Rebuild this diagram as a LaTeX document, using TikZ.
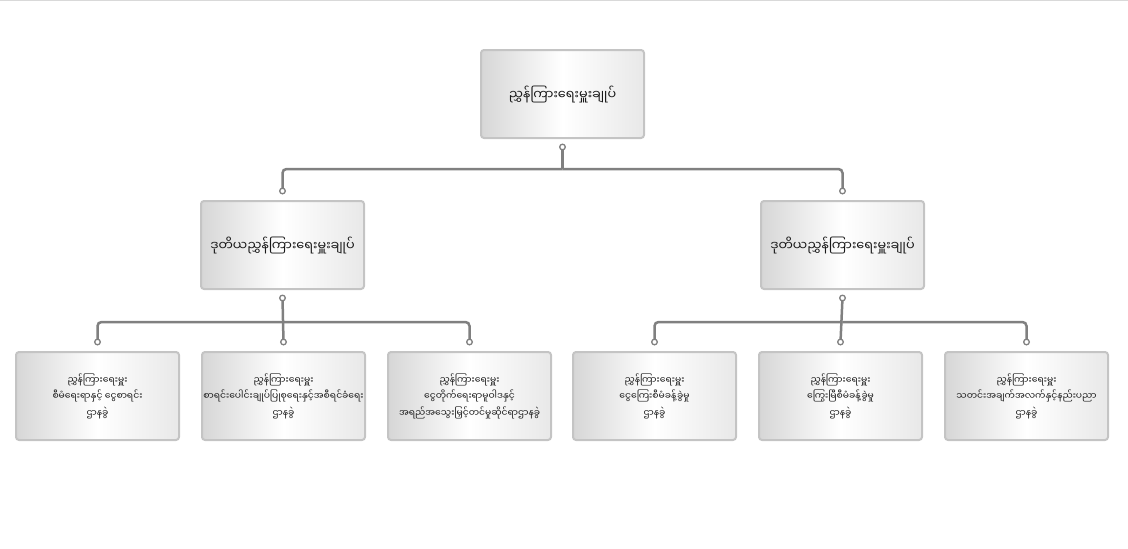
\documentclass[tikz,border=0pt]{standalone}
\usepackage{fontspec}
\newfontfamily\mya[Script=Myanmar]{Noto Sans Myanmar UI}
\usetikzlibrary{calc}
\definecolor{connc}{HTML}{808080}
\definecolor{boxb}{HTML}{C4C4C4}
\tikzset{
  orgbox/.style={draw=boxb, line width=2pt, rounded corners=3pt,
    left color=black!16, right color=black!9, middle color=white,
    minimum width=163pt, minimum height=88pt, align=center, inner sep=1pt,
    text=black!90, font=\mya\fontsize{9.2}{16.5}\selectfont},
  bigbox/.style={orgbox, font=\mya\fontsize{12.8}{16}\selectfont},
  conn/.style={draw=connc, line width=2.5pt, rounded corners=4pt},
  dotc/.style={draw=connc, line width=1.3pt, fill=white}
}
\begin{document}
\begin{tikzpicture}[x=1pt,y=-1pt]
\useasboundingbox (0,0) rectangle (1128,549);
\draw[black!15, line width=1pt] (0,0.5) -- (1128,0.5);
% boxes
\node[bigbox] (top) at (562.5,94) {ညွှန်ကြားရေးမှူးချုပ်};
\node[bigbox] (m1) at (282.5,245) {ဒုတိယညွှန်ကြားရေးမှူးချုပ်};
\node[bigbox] (m2) at (842.5,245) {ဒုတိယညွှန်ကြားရေးမှူးချုပ်};
\node[orgbox] (l1) at (97.5,396) {ညွှန်ကြားရေးမှူး\\စီမံရေးရာနှင့် ငွေစာရင်း\\ဌာနခွဲ};
\node[orgbox] (l2) at (283.5,396) {ညွှန်ကြားရေးမှူး\\စာရင်းပေါင်းချုပ်ပြုစုရေးနှင့်အစီရင်ခံရေး\\ဌာနခွဲ};
\node[orgbox] (l3) at (469.5,396) {ညွှန်ကြားရေးမှူး\\ငွေတိုက်ရေးရာမူဝါဒနှင့်\\အရည်အသွေးမြှင့်တင်မှုဆိုင်ရာဌာနခွဲ};
\node[orgbox] (l4) at (654.5,396) {ညွှန်ကြားရေးမှူး\\ငွေကြေးစီမံခန့်ခွဲမှု\\ဌာနခွဲ};
\node[orgbox] (l5) at (840.5,396) {ညွှန်ကြားရေးမှူး\\ကြွေးမြီစီမံခန့်ခွဲမှု\\ဌာနခွဲ};
\node[orgbox] (l6) at (1026.5,396) {ညွှန်ကြားရေးမှူး\\သတင်းအချက်အလက်နှင့်နည်းပညာ\\ဌာနခွဲ};
% connector end points
\coordinate (ptop) at ($(top.south)+(0,8)$);
\coordinate (pm1i) at ($(m1.north)+(0,-9)$);
\coordinate (pm2i) at ($(m2.north)+(0,-9)$);
\coordinate (pm1o) at ($(m1.south)+(0,8)$);
\coordinate (pm2o) at ($(m2.south)+(0,8)$);
\foreach \i in {1,...,6}{\coordinate (pl\i) at ($(l\i.north)+(0,-9)$);}
\coordinate (jt) at (ptop |- 0,169);
\coordinate (j1) at (pm1o |- 0,322);
\coordinate (j2) at (pm2o |- 0,322);
% connectors
\draw[conn] (ptop) -- (jt);
\draw[conn] (jt) -| (pm1i);
\draw[conn] (jt) -| (pm2i);
\draw[conn] (pm1o) -- (pl2);
\draw[conn] (j1) -| (pl1);
\draw[conn] (j1) -| (pl3);
\draw[conn] (pm2o) -- (pl5);
\draw[conn] (j2) -| (pl4);
\draw[conn] (j2) -| (pl6);
% dots
\foreach \p in {ptop,pm1i,pm2i,pm1o,pm2o,pl1,pl2,pl3,pl4,pl5,pl6}{\draw[dotc] (\p) circle (2.8);}
\end{tikzpicture}
\end{document}
